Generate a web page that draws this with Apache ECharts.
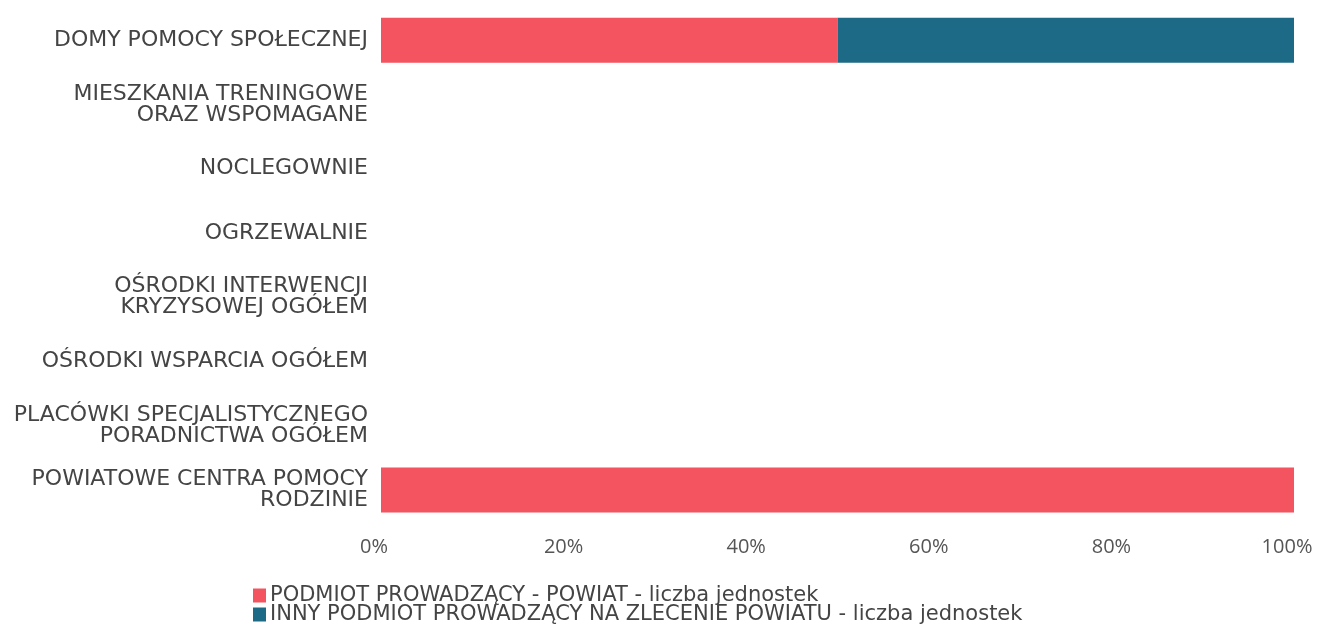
<!DOCTYPE html>
<html>
<head>
<meta charset="utf-8">
<script src="https://cdn.jsdelivr.net/npm/echarts@6/dist/echarts.min.js"></script>
<style>html,body{margin:0;padding:0;background:#fff}#c{width:1317px;height:628px}</style>
</head>
<body>
<div id="c"></div>
<script>
const categories = [
  "DOMY POMOCY SPOŁECZNEJ",
  "MIESZKANIA TRENINGOWE\nORAZ WSPOMAGANE",
  "NOCLEGOWNIE",
  "OGRZEWALNIE",
  "OŚRODKI INTERWENCJI\nKRYZYSOWEJ OGÓŁEM",
  "OŚRODKI WSPARCIA OGÓŁEM",
  "PLACÓWKI SPECJALISTYCZNEGO\nPORADNICTWA OGÓŁEM",
  "POWIATOWE CENTRA POMOCY\nRODZINIE"
];
const seriesNames = [
  "PODMIOT PROWADZĄCY - POWIAT - liczba jednostek",
  "INNY PODMIOT PROWADZĄCY NA ZLECENIE POWIATU - liczba jednostek"
];
const powiatPct = [50, 0, 0, 0, 0, 0, 0, 100];
const innyPct   = [50, 0, 0, 0, 0, 0, 0, 0];
const xTicks = [0, 20, 40, 60, 80, 100];

const chart = echarts.init(document.getElementById('c'));
const font = "'Open Sans', sans-serif";
const legendText = { color: '#444', fontSize: 21, fontFamily: "'DejaVu Sans', sans-serif", lineHeight: 19, padding: [0, 0, 0, -1] };
const xMin = xTicks[0], xMax = xTicks[xTicks.length - 1];
chart.setOption({
  animation: false,
  grid: { left: 381, right: 23, top: 8, bottom: 106, containLabel: false, outerBoundsMode: 'none' },
  xAxis: {
    type: 'value', min: xMin, max: xMax, interval: xTicks[1] - xTicks[0],
    axisLine: { show: false }, axisTick: { show: false }, splitLine: { show: false },
    axisLabel: {
      formatter: v => (v === xMin || v === xMax) ? '{e|' + v + '%}' : v + '%',
      color: '#555', fontSize: 20, fontFamily: font, margin: 15,
      rich: { e: { color: '#555', fontSize: 20, fontFamily: font, padding: [0, 14, 0, 0] } }
    }
  },
  yAxis: {
    type: 'category', data: categories, inverse: true,
    axisLine: { show: false }, axisTick: { show: false },
    axisLabel: { color: '#444', fontSize: 22, fontFamily: "'DejaVu Sans', sans-serif", margin: 13, lineHeight: 21, align: 'right' }
  },
  legend: [
    { orient: 'horizontal', left: 253, top: 585, padding: 0, itemWidth: 13, itemHeight: 14, icon: 'rect',
      textStyle: legendText, data: [seriesNames[0]] },
    { orient: 'horizontal', left: 253, top: 604, padding: 0, itemWidth: 13, itemHeight: 14, icon: 'rect',
      textStyle: legendText, data: [seriesNames[1]] }
  ],
  series: [
    { name: seriesNames[0], type: 'bar', stack: 'a', barWidth: 45, data: powiatPct, itemStyle: { color: '#f3545f' } },
    { name: seriesNames[1], type: 'bar', stack: 'a', barWidth: 45, data: innyPct, itemStyle: { color: '#1d6a86' } }
  ]
});
</script>
</body>
</html>
